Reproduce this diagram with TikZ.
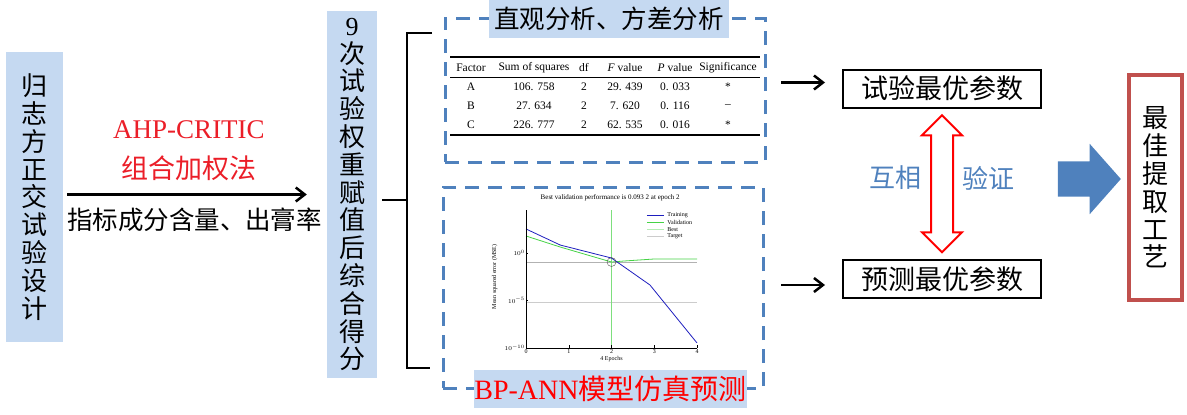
\documentclass[tikz,border=0pt]{standalone}
\usepackage{fontspec}
\setmainfont{Liberation Serif}
\newfontfamily\cjk{Noto Sans CJK SC}
\usepackage{tikz}
\usetikzlibrary{shapes.geometric, shapes.arrows, arrows, arrows.meta, calc}
\usetikzlibrary{positioning}
\definecolor{paleblue}{RGB}{197,217,241}
\definecolor{dashblue}{RGB}{79,129,189}
\definecolor{boxred}{RGB}{192,80,77}
\definecolor{labelred}{RGB}{235,30,40}
\definecolor{trainblue}{RGB}{30,30,190}
\definecolor{valgreen}{RGB}{70,210,70}
\tikzstyle{vertbox}=[rectangle, fill=paleblue, inner sep=0pt, align=center,
					font=\cjk\fontsize{26}{27.8}\selectfont]
\tikzstyle{dashbox}=[rectangle, draw=dashblue, line width=3pt, dash pattern=on 14pt off 9pt]
\tikzstyle{flowarrow}=[-{Straight Barb[length=9pt, width=14pt]}, line width=2.5pt]

\begin{document}
\begin{tikzpicture}[x=1pt, y=-1pt,
 titlenode/.style={rectangle, fill=paleblue, inner sep=0pt, minimum height=38pt, font=\cjk\fontsize{25.5}{28}\selectfont},
 resultnode/.style={rectangle, draw=black, line width=2pt, minimum width=198pt, minimum height=38pt, font=\cjk\fontsize{27}{28}\selectfont},
 cellnode/.style={inner sep=0pt, font=\fontsize{11.5}{13}\selectfont},
 ticknode/.style={inner sep=1pt, font=\fontsize{6}{7}\selectfont},
 ]
 \useasboundingbox (0,0) rectangle (1187,415);
 %Nodes
 \node[vertbox, minimum width=57pt, minimum height=290pt] (design_node) at (34.5,197) {归\\志\\方\\正\\交\\试\\验\\设\\计};
 \node[vertbox, minimum width=50pt, minimum height=367pt] (score_node) at (352,194.5) {{\rmfamily 9}\\次\\试\\验\\权\\重\\赋\\值\\后\\综\\合\\得\\分};
 \node[text=labelred, font=\fontsize{27}{30}\selectfont] (ahp_node) at (189,130) {AHP-CRITIC};
 \node[text=labelred, font=\cjk\fontsize{27}{30}\selectfont] (weight_node) at (189,168) {组合加权法};
 \node[inner sep=0pt, font=\cjk\fontsize{25.5}{28}\selectfont] (index_node) at (194.5,220) {指标成分含量、出膏率};

 \node[dashbox, minimum width=320pt, minimum height=144pt] (anova_box) at (605,90) {};
 \node[dashbox, minimum width=320pt, minimum height=201pt] (ann_box) at (603,287.5) {};
 \node[titlenode, minimum width=240pt] (anova_title) at (609,19) {直观分析、方差分析};
 \node[titlenode, minimum width=269pt, text=red, font=\fontsize{28}{30}\selectfont] (ann_title) at (610.5,389) {BP-ANN{\cjk 模型仿真预测}};

 \node[resultnode] (exp_opt) at (942,88.5) {试验最优参数};
 \node[resultnode] (pred_opt) at (942,279) {预测最优参数};
 \node[double arrow, draw=red, fill=white, line width=2pt, rotate=90, inner xsep=0pt, inner ysep=10pt,
       double arrow head extend=9pt, minimum height=137pt, minimum width=38pt]
       (verify_arrow) at ($(exp_opt.south)!0.5!(pred_opt.north)$) {};
 \node[text=dashblue, font=\cjk\fontsize{26}{28}\selectfont] (mutual_node) at (895,178) {互相};
 \node[text=dashblue, font=\cjk\fontsize{26}{28}\selectfont] (check_node) at (988,178) {验证};
 \node[single arrow, fill=dashblue, inner xsep=0pt, inner ysep=17.5pt, single arrow head extend=17.5pt,
       single arrow tip angle=97, minimum height=63pt, minimum width=70pt] (final_arrow) at (1081.5,179) {};
 \node[rectangle, draw=boxred, line width=4pt, minimum width=53pt, minimum height=225pt, align=center,
       font=\cjk\fontsize{26}{27.8}\selectfont] (best_node) at (1155.5,187.5) {最\\佳\\提\\取\\工\\艺};

 %Table
 \draw[line width=1.2pt] (450,57) -- (760,57);
 \draw[line width=0.6pt] (450,77) -- (760,77);
 \draw[line width=1.2pt] (450,135) -- (760,135);
 \foreach \y/\a/\b/\c/\d/\e/\f in {68/Factor/Sum of squares/df/{\textit{F} value}/{\textit{P} value}/Significance,
     87/A/106. 758/2/29. 439/0. 033/*, 106/B/27. 634/2/7. 620/0. 116/--, 125/C/226. 777/2/62. 535/0. 016/*}{
   \node[cellnode] (cell-\y-1) at (471,\y) {\a};
   \node[cellnode] (cell-\y-2) at (534,\y) {\b};
   \node[cellnode] (cell-\y-3) at (584,\y) {\c};
   \node[cellnode] (cell-\y-4) at (625,\y) {\d};
   \node[cellnode] (cell-\y-5) at (675,\y) {\e};
   \node[cellnode] (cell-\y-6) at (728,\y) {\f};
 }

 %Plot
 \begin{scope}[shift={(526,348)}, x=42.75pt, y=9.5pt]
  \draw[black!30] (0,9.05) -- (4,9.05);
  \draw[black!20] (0,4.85) -- (4,4.85);
  \draw[valgreen!70] (2,0) -- (2,14.5);
  \draw[valgreen, line width=0.8pt] plot coordinates {(0,11.79) (0.8,10.63) (2,9.05) (2.3,9.16) (3,9.37) (4,9.37)};
  \draw[trainblue, line width=0.8pt] plot coordinates {(0,12.53) (0.8,10.84) (2,9.47) (2.9,6.63) (4,0.53)};
  \draw[black!70] (2,9.05) circle[radius=4.5pt];
  \draw[line width=0.5pt] (0,14.5) -- (0,0) -- (4,0);
  \foreach \i in {0,...,4}{
    \draw (\i,0) -- (\i,0.3);
    \node[ticknode, below] (xtick\i) at (\i,0) {\i};
  }
  \foreach \p/\v in {0/-10, 5/-5, 10/0}{
    \draw (0,\p) -- (0.05,\p);
    \node[ticknode, left] (ytick\p) at (0,\p) {$10^{\v}$};
  }
  \node[ticknode, below=7pt] (xlabel_node) at (2,0) {4 Epochs};
  \node[ticknode, rotate=90] (ylabel_node) at (-0.73,7.5) {Mean squared error (MSE)};
  \node[font=\fontsize{7}{8}\selectfont] (plot_title) at (1.97,15.8) {Best validation performance is 0.093 2 at epoch 2};
  \foreach \n/\c/\yy in {Training/trainblue/14.0, Validation/valgreen/13.2, Best/valgreen!40/12.5, Target/black!20/11.8}{
    \draw[\c, line width=0.8pt] (2.83,\yy) -- (3.23,\yy);
    \node[ticknode, right] (leg\n) at (3.28,\yy) {\n};
  }
 \end{scope}

 %Lines
 \coordinate (brace_mid) at (407,200);
 \coordinate (brace_top) at (432,33);
 \coordinate (brace_bot) at (430,368);
 \draw[flowarrow, shorten <=4pt, shorten >=20pt] (design_node.east |- score_node.west) -- (score_node.west);
 \draw[line width=2pt, shorten <=5pt] (score_node.east |- brace_mid) -- (brace_mid);
 \draw[line width=2pt] (brace_top) -- (brace_top -| brace_mid) -- (brace_bot -| brace_mid) -- (brace_bot);
 \draw[flowarrow, shorten >=17pt] ([xshift=-61pt, yshift=6pt]exp_opt.west) -- ([yshift=6pt]exp_opt.west);
 \draw[flowarrow, shorten >=17pt] ([xshift=-61pt, yshift=-6pt]pred_opt.west) -- ([yshift=-6pt]pred_opt.west);
\end{tikzpicture}
\end{document}
